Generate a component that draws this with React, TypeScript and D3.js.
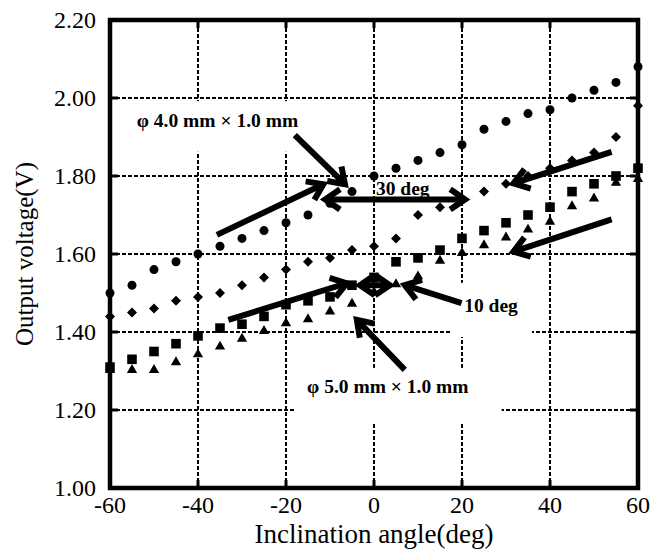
import React from "react";
import * as d3 from "d3";

const angles = [-60, -55, -50, -45, -40, -35, -30, -25, -20, -15, -10, -5, 0, 5, 10, 15, 20, 25, 30, 35, 40, 45, 50, 55, 60];

const circleValues = [1.5, 1.52, 1.56, 1.58, 1.6, 1.62, 1.64, 1.66, 1.68, 1.7, 1.73, 1.76, 1.8, 1.82, 1.84, 1.86, 1.88, 1.92, 1.94, 1.96, 1.97, 2.0, 2.02, 2.04, 2.08];
const diamondValues = [1.44, 1.45, 1.46, 1.48, 1.49, 1.5, 1.52, 1.54, 1.56, 1.58, 1.59, 1.61, 1.62, 1.64, 1.7, 1.72, 1.74, 1.76, 1.78, 1.8, 1.82, 1.84, 1.86, 1.9, 1.98];
const squareValues = [1.31, 1.33, 1.35, 1.37, 1.39, 1.41, 1.42, 1.44, 1.47, 1.48, 1.49, 1.52, 1.54, 1.58, 1.59, 1.61, 1.64, 1.66, 1.68, 1.7, 1.72, 1.76, 1.78, 1.8, 1.82];
const triangleValues = [1.3, 1.3, 1.3, 1.32, 1.34, 1.36, 1.38, 1.4, 1.42, 1.43, 1.45, 1.47, 1.5, 1.52, 1.54, 1.58, 1.6, 1.62, 1.64, 1.66, 1.68, 1.72, 1.74, 1.78, 1.79];

const xTicks = [-60, -40, -20, 0, 20, 40, 60];
const yTicks = [1.0, 1.2, 1.4, 1.6, 1.8, 2.0, 2.2];

// annotation arrows in data units: [tailAngle, tailV, tipAngle, tipV, doubleHeaded]
const arrows: [number, number, number, number, boolean][] = [
  [-18, 1.905, -6.6, 1.779, false],
  [-35.7, 1.649, -11.5, 1.779, false],
  [-11.1, 1.74, 20.7, 1.74, true],
  [54, 1.862, 31.7, 1.781, false],
  [54, 1.689, 31.7, 1.606, false],
  [-33.1, 1.431, -6.2, 1.525, false],
  [-3.2, 1.52, 3.6, 1.52, true],
  [19.9, 1.474, 7.0, 1.52, false],
  [7.0, 1.303, -3.9, 1.431, false],
];

// white boxes behind labels: [a0, a1, v0, v1]
const boxes = [
  [-55.5, -14.5, 1.862, 1.992],
  [-18, 29, 1.169, 1.308],
  [17.7, 35.9, 1.387, 1.526],
];

const labels = [
  { text: "φ 4.0 mm × 1.0 mm", a: -53.9, v: 1.926 },
  { text: "30 deg", a: 0.45, v: 1.751 },
  { text: "10 deg", a: 20.5, v: 1.452 },
  { text: "φ 5.0 mm × 1.0 mm", a: -15.2, v: 1.244 },
];

const width = 653;
const height = 549;
const margin = { top: 20, right: 15, bottom: 61, left: 110 };

const App = () => {
  const x = d3.scaleLinear().domain([-60, 60]).range([margin.left, width - margin.right]);
  const y = d3.scaleLinear().domain([1.0, 2.2]).range([height - margin.bottom, margin.top]);
  const [x0, x1] = x.range();
  const [y0, y1] = y.range();

  const squarePath = d3.symbol().type(d3.symbolSquare).size(92)();
  const trianglePath = d3.symbol().type(d3.symbolTriangle).size(46)();
  const diamondPath = "M0,-5L5,0L0,5L-5,0Z";

  const arrowHead = (tx: number, ty: number, fx: number, fy: number) => {
    const ang = Math.atan2(ty - fy, tx - fx);
    const len = 18;
    const spread = 0.6;
    const p1 = [tx - len * Math.cos(ang - spread), ty - len * Math.sin(ang - spread)];
    const p2 = [tx - len * Math.cos(ang + spread), ty - len * Math.sin(ang + spread)];
    return `M${p1[0]},${p1[1]}L${tx},${ty}L${p2[0]},${p2[1]}`;
  };

  const font = "'Liberation Serif', 'Times New Roman', serif";

  return (
    <div style={{ position: "fixed", left: 0, top: 0 }}>
      <svg width={width} height={height} style={{ display: "block", background: "#fff" }}>
        <g className="grid" stroke="#000" strokeWidth={2} strokeDasharray="4 2">
          {yTicks.slice(1, -1).map((t) => (
            <line key={"h" + t} x1={x0} x2={x1} y1={y(t)} y2={y(t)} />
          ))}
          {xTicks.slice(1, -1).map((t) => (
            <line key={"v" + t} x1={x(t)} x2={x(t)} y1={y0} y2={y1} />
          ))}
        </g>
        <g className="ticks" stroke="#000" strokeWidth={3}>
          {yTicks.slice(1, -1).map((t) => (
            <g key={"ty" + t}>
              <line x1={x0} x2={x0 + 8} y1={y(t)} y2={y(t)} />
              <line x1={x1 - 8} x2={x1} y1={y(t)} y2={y(t)} />
            </g>
          ))}
          {xTicks.slice(1, -1).map((t) => (
            <g key={"tx" + t}>
              <line x1={x(t)} x2={x(t)} y1={y0} y2={y0 - 8} />
              <line x1={x(t)} x2={x(t)} y1={y1} y2={y1 + 8} />
            </g>
          ))}
        </g>
        {boxes.map((b, i) => (
          <rect
            key={"b" + i}
            x={x(b[0])}
            y={y(b[3])}
            width={x(b[1]) - x(b[0])}
            height={y(b[2]) - y(b[3])}
            fill="#fff"
          />
        ))}
        <g className="series" fill="#000">
          {angles.map((a, i) => (
            <circle key={"c" + a} cx={x(a)} cy={y(circleValues[i])} r={4.5} />
          ))}
          {angles.map((a, i) => (
            <path key={"d" + a} d={diamondPath} transform={`translate(${x(a)},${y(diamondValues[i])})`} />
          ))}
          {angles.map((a, i) => (
            <path key={"s" + a} d={squarePath} transform={`translate(${x(a)},${y(squareValues[i])})`} />
          ))}
          {angles.map((a, i) => (
            <path key={"t" + a} d={trianglePath} transform={`translate(${x(a)},${y(triangleValues[i]) - 1})`} />
          ))}
        </g>
        <g className="arrows" stroke="#000" strokeWidth={6} fill="none" strokeLinecap="butt" strokeLinejoin="miter">
          {arrows.map(([ta, tv, ha, hv, dbl], i) => {
            const fx = x(ta), fy = y(tv), tx = x(ha), ty = y(hv);
            return (
              <g key={"a" + i}>
                <line x1={fx} y1={fy} x2={tx} y2={ty} />
                <path d={arrowHead(tx, ty, fx, fy)} />
                {dbl && <path d={arrowHead(fx, fy, tx, ty)} />}
              </g>
            );
          })}
        </g>
        <g className="labels" fontFamily={font} fontWeight="bold" fontSize={19.5}>
          {labels.map((l) => (
            <text key={l.text + l.a} x={x(l.a)} y={y(l.v)}>
              {l.text}
            </text>
          ))}
        </g>
        <rect x={x0} y={y1} width={x1 - x0} height={y0 - y1} fill="none" stroke="#000" strokeWidth={4.5} />
        <g fontFamily={font} fontSize={24}>
          {yTicks.map((t) => (
            <text key={"yl" + t} x={x0 - 14} y={y(t)} textAnchor="end" dominantBaseline="central">
              {t.toFixed(2)}
            </text>
          ))}
          {xTicks.map((t) => (
            <text key={"xl" + t} x={x(t)} y={y0 + 25} textAnchor="middle">
              {t}
            </text>
          ))}
          <text x={(x0 + x1) / 2} y={height - 6} textAnchor="middle" fontSize={27}>
            Inclination angle(deg)
          </text>
          <text
            transform={`translate(33,${(y0 + y1) / 2}) rotate(-90)`}
            textAnchor="middle"
            fontSize={25}
          >
            Output voltage(V)
          </text>
        </g>
      </svg>
    </div>
  );
};

export default App;
